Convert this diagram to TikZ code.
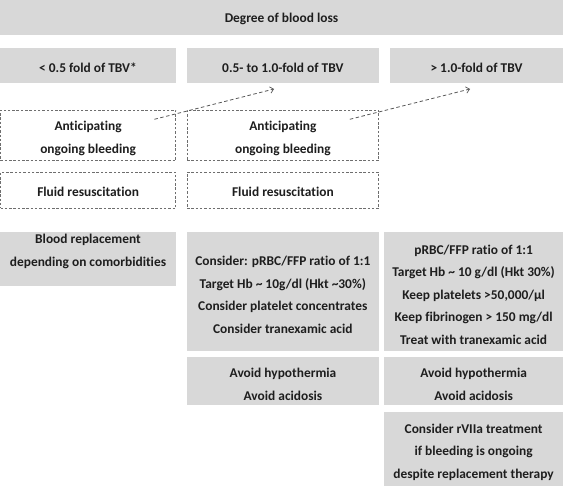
\documentclass[tikz,border=0pt]{standalone}
\usepackage{fontspec}
\setmainfont{Carlito}[Ligatures=NoCommon]
\usetikzlibrary{arrows.meta}
\definecolor{boxgray}{RGB}{216,216,216}
\definecolor{txtgray}{RGB}{30,30,30}
\definecolor{dashgray}{RGB}{110,110,110}
\newcommand{\topstrut}{\rule{0pt}{16pt}}
\newcommand{\onestrut}{\rule{0pt}{13pt}}
\tikzset{
  base/.style={inner sep=0pt, outer sep=0pt, anchor=north west, align=center,
    text=txtgray, font=\bfseries\fontsize{13.4}{22.5}\selectfont},
  gbox/.style={base, fill=boxgray},
  dbox/.style={base, draw=dashgray, line width=0.7pt, dash pattern=on 2.5pt off 1.8pt},
  txt/.style={inner sep=0pt, outer sep=0pt, align=center, text=txtgray,
    font=\bfseries\fontsize{13.4}{22.5}\selectfont},
  darrow/.style={draw=dashgray!80!black, line width=0.8pt, dash pattern=on 3.5pt off 2.5pt,
    -{Straight Barb[length=3.5pt,width=6.5pt,line width=0.7pt]}},
}
\begin{document}
\begin{tikzpicture}[x=1pt,y=-1pt]
\useasboundingbox (0,0) rectangle (563,486);
\fill[white] (0,0) rectangle (563,486);
% top
\node[gbox, minimum width=563pt, minimum height=35pt] (top) at (0,0) {\onestrut Degree of blood loss};
% row 2
\node[gbox, minimum width=176pt, minimum height=35.3pt] (r2a) at (0,48) {\onestrut< 0.5 fold of TBV*};
\node[gbox, minimum width=192.3pt, minimum height=35.3pt] (r2b) at (186.7,48) {\onestrut 0.5- to 1.0-fold of TBV};
\node[gbox, minimum width=173pt, minimum height=35.3pt] (r2c) at (390,48) {\onestrut> 1.0-fold of TBV};
% dashed boxes
\node[dbox, minimum width=175.2pt, minimum height=50.7pt] (a1) at (0.5,110) {\topstrut Anticipating\\ongoing bleeding};
\node[dbox, minimum width=191.8pt, minimum height=50.7pt] (a2) at (187,110) {\topstrut Anticipating\\ongoing bleeding};
\node[dbox, minimum width=175.2pt, minimum height=36pt] (f1) at (0.5,172.3) {\onestrut Fluid resuscitation};
\node[dbox, minimum width=191.8pt, minimum height=36pt] (f2) at (187,172.3) {\onestrut Fluid resuscitation};
% arrows
\draw[darrow] ([shift={(-21.3,9.3)}]a1.north east) -- ([shift={(-8.8,5.7)}]r2b.south);
\draw[darrow] ([shift={(-29,9.3)}]a2.north east) -- ([shift={(-6.5,5.7)}]r2c.south);
% row 4
\node[gbox, minimum width=176pt, minimum height=53.4pt] (b1) at (0,232.3) {};
\node[txt, anchor=north] (b1t) at ([yshift=-2pt]b1.north) {Blood replacement\\depending on comorbidities};
\node[gbox, minimum width=192.3pt, minimum height=118.4pt] (b2) at (186.7,232.3)
  {\topstrut Consider: pRBC/FFP ratio of 1:1\\Target Hb \textasciitilde{} 10g/dl (Hkt \textasciitilde30\%)\\Consider platelet concentrates\\Consider tranexamic acid};
\node[gbox, minimum width=178.8pt, minimum height=118.4pt] (b3) at (384.2,232.3)
  {\topstrut pRBC/FFP ratio of 1:1\\Target Hb \textasciitilde{} 10 g/dl (Hkt 30\%)\\Keep platelets >50,000/µl\\Keep fibrinogen > 150 mg/dl\\Treat with tranexamic acid};
% row 5
\node[gbox, minimum width=192.6pt, minimum height=47.7pt] (c2) at (186.7,357.3) {\topstrut Avoid hypothermia\\Avoid acidosis};
\node[gbox, minimum width=178.8pt, minimum height=47.7pt] (c3) at (384.2,357.3) {\topstrut Avoid hypothermia\\Avoid acidosis};
% row 6
\node[gbox, minimum width=178.8pt, minimum height=74.3pt] (d3) at (384.2,411.7)
  {\topstrut Consider rVIIa treatment\\if bleeding is ongoing\\despite replacement therapy};
\end{tikzpicture}
\end{document}
